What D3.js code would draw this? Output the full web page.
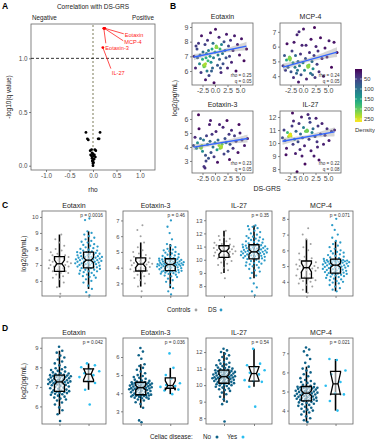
<!DOCTYPE html>
<html>
<head>
<meta charset="utf-8">
<script src="https://cdn.jsdelivr.net/npm/d3@7"></script>
<style>
body { margin: 0; background: #fff; }
svg { font-family: "Liberation Sans", Arial, Helvetica, sans-serif; }
</style>
</head>
<body>
<div id="chart"></div>
<script>
// ---- panel A : correlation with DS-GRS ----
var volcanoRho  = [-0.15, 0.15, -0.12, -0.10, 0.11, 0.13, -0.06, -0.03, 0.04, 0.06, -0.05, -0.03, 0.00, 0.03, -0.02, 0.02, -0.01, 0.01, 0.00, 0.00, -0.02, 0.05, 0.01, -0.01];
var volcanoLogQ = [0.31, 0.31, 0.25, 0.24, 0.25, 0.25, 0.14, 0.15, 0.15, 0.14, 0.10, 0.09, 0.11, 0.10, 0.07, 0.06, 0.04, 0.03, 0.02, 0.00, 0.12, 0.08, 0.09, 0.05];
var hlNames = ["Eotaxin", "MCP-4", "Eotaxin-3", "IL-27"];
var hlRho   = [0.25, 0.24, 0.23, 0.21];
var hlLogQ  = [1.28, 1.28, 1.28, 1.10];

// ---- panel B : scatter vs DS-GRS ----
var bNames = ["Eotaxin", "MCP-4", "Eotaxin-3", "IL-27"];
var bRho = ["0.25", "0.24", "0.23", "0.22"];
var bQ   = ["0.05", "0.05", "0.05", "0.08"];
var bIntercept = [7.25, 4.99, 4.23, 10.42];
var bSlope     = [0.071, 0.094, 0.057, 0.07];
var bEotaxin = [[-4.2,7.0],[-3.9,6.2],[-3.6,7.5],[-3.5,6.9],[-3.3,7.9],[-3.1,6.5],[-3.0,7.1],[-2.8,5.9],[-2.7,8.4],[-2.5,6.8],[-2.4,7.3],[-2.3,6.4],[-2.2,6.3],[-2.1,6.45],[-2.0,7.8],[-1.9,5.4],[-1.8,6.9],[-1.7,7.2],[-1.6,6.0],[-1.5,8.1],[-1.4,6.7],[-1.3,7.4],[-1.2,5.7],[-1.0,7.0],[-0.9,8.6],[-0.8,6.6],[-0.6,7.5],[-0.5,6.2],[-0.4,7.9],[-0.3,6.9],[-0.2,5.2],[0.0,7.3],[0.1,8.85],[0.2,7.6],[0.3,7.65],[0.4,7.6],[0.5,6.4],[0.6,7.1],[0.8,8.3],[0.9,6.8],[1.0,7.5],[1.2,5.9],[1.3,7.8],[1.5,7.2],[1.6,6.5],[1.8,8.0],[2.0,7.4],[2.2,6.9],[2.3,8.5],[2.5,6.2],[2.7,7.7],[2.9,7.0],[3.1,8.1],[3.3,6.6],[3.6,7.4],[3.9,8.4],[4.2,6.0],[4.5,7.8],[4.9,7.1],[5.3,8.2],[5.8,6.7],[6.3,7.5],[-3.8,7.7],[-0.7,6.0],[1.1,6.2],[-2.0,6.35],[-1.9,6.5],[0.25,7.7]];
var bMCP4 = [[-4.0,4.7],[-3.7,5.4],[-3.5,4.4],[-3.3,5.1],[-3.0,4.6],[-2.8,5.2],[-2.7,5.3],[-2.6,5.1],[-2.5,5.2],[-2.4,4.3],[-2.2,5.7],[-2.0,4.9],[-1.9,3.9],[-1.8,6.3],[-1.6,4.6],[-1.5,5.4],[-1.3,4.2],[-1.2,6.8],[-1.0,5.0],[-0.9,3.6],[-0.7,4.7],[-0.5,5.5],[-0.4,4.1],[-0.2,6.1],[0.0,4.9],[0.1,7.2],[0.3,4.4],[0.5,5.2],[0.7,3.8],[0.9,4.7],[1.0,4.6],[1.1,4.7],[1.2,4.75],[1.3,5.6],[1.5,4.2],[1.6,6.5],[1.8,5.0],[2.0,4.5],[2.2,5.4],[2.4,3.9],[2.6,6.0],[2.8,4.8],[3.0,5.7],[3.2,4.3],[3.5,6.6],[3.8,5.2],[4.1,4.0],[4.4,5.9],[4.8,5.3],[5.2,6.4],[5.7,4.6],[6.2,6.3],[6.8,5.6],[-3.2,6.2],[-0.8,7.0],[2.3,7.3],[0.6,6.1],[-1.1,4.4],[1.9,4.1],[-2.6,5.25],[1.15,4.65]];
var bEotaxin3 = [[-4.3,4.1],[-4.0,4.7],[-3.7,3.9],[-3.5,4.3],[-3.2,5.3],[-3.0,4.0],[-2.8,3.9],[-2.7,4.0],[-2.6,4.1],[-2.5,3.7],[-2.3,4.5],[-2.2,2.6],[-2.0,2.5],[-1.9,3.4],[-1.7,4.8],[-1.5,4.2],[-1.3,3.2],[-1.1,5.6],[-1.0,4.4],[-0.8,3.6],[-0.6,4.9],[-0.4,4.0],[-0.2,3.3],[0.0,4.3],[0.2,5.1],[0.4,3.8],[0.6,4.5],[0.8,4.1],[1.0,3.9],[1.2,4.0],[1.3,4.05],[1.4,4.2],[1.6,5.4],[1.8,3.5],[2.0,4.6],[2.2,4.3],[2.4,5.9],[2.6,3.7],[2.8,4.9],[3.0,4.2],[3.3,5.2],[3.6,3.9],[3.9,4.8],[4.2,4.4],[4.6,3.6],[5.0,5.0],[5.4,4.5],[5.9,4.1],[6.5,4.6],[-3.3,6.3],[-0.9,5.9],[0.9,5.6],[-1.8,3.0],[0.5,2.9],[2.9,3.1],[-2.9,4.6],[4.8,5.6],[-2.75,4.05],[1.25,3.95]];
var bIL27 = [[-4.1,10.4],[-3.8,11.0],[-3.6,10.2],[-3.3,9.6],[-3.1,10.8],[-2.9,10.5],[-2.7,10.6],[-2.6,10.6],[-2.5,10.7],[-2.4,10.55],[-2.2,11.3],[-2.0,9.9],[-1.9,11.7],[-1.7,10.3],[-1.5,9.2],[-1.4,10.9],[-1.2,7.8],[-1.0,10.1],[-0.8,11.5],[-0.6,9.5],[-0.5,10.7],[-0.3,12.0],[-0.1,10.4],[0.1,11.2],[0.3,9.8],[0.5,10.9],[0.7,10.9],[0.8,11.0],[0.9,10.95],[1.0,12.2],[1.2,10.3],[1.4,11.6],[1.6,9.4],[1.8,10.8],[2.0,11.1],[2.2,9.0],[2.4,10.5],[2.6,11.9],[2.8,10.1],[3.0,11.3],[3.2,8.7],[3.5,10.7],[3.8,11.5],[4.1,9.9],[4.4,10.6],[4.8,11.1],[5.2,10.2],[5.7,10.9],[6.3,11.0],[-2.1,12.3],[0.4,8.4],[-3.4,9.1],[2.9,9.7],[-0.2,9.0],[1.3,11.9],[-2.55,10.65],[0.85,10.9]];
var densityTicks = [50, 100, 150, 200, 250];

// ---- panel C : Controls vs DS ----
var cNames = ["Eotaxin", "Eotaxin-3", "IL-27", "MCP-4"];
var cPvals = ["0.0016", "0.46", "0.35", "0.071"];
var cEotaxinCtrl = [5.2,5.6,5.9,6.1,6.2,6.3,6.4,6.5,6.5,6.6,6.6,6.7,6.8,6.8,6.9,6.9,7.0,7.0,7.0,7.05,7.1,7.1,7.2,7.2,7.3,7.3,7.4,7.4,7.5,7.5,7.6,7.6,7.7,7.8,7.9,8.0,8.2,8.4,8.6,8.9];
var cEotaxinDS = [5.1,5.3,5.5,5.7,5.9,6.0,6.1,6.2,6.25,6.3,6.35,6.4,6.45,6.5,6.55,6.6,6.6,6.65,6.7,6.7,6.75,6.8,6.8,6.85,6.85,6.9,6.9,6.95,6.95,7.0,7.0,7.05,7.05,7.1,7.1,7.1,7.15,7.15,7.2,7.2,7.2,7.25,7.25,7.3,7.3,7.3,7.35,7.35,7.4,7.4,7.4,7.45,7.45,7.5,7.5,7.5,7.55,7.55,7.6,7.6,7.65,7.65,7.7,7.7,7.75,7.75,7.8,7.8,7.85,7.9,7.9,7.95,8.0,8.05,8.1,8.15,8.2,8.25,8.3,8.4,8.45,8.5,8.6,8.7,8.8,8.9,9.0,9.1,9.8,9.9];
var cEotaxin3Ctrl = [2.5,2.8,3.0,3.2,3.35,3.45,3.55,3.6,3.7,3.75,3.8,3.85,3.9,3.95,4.0,4.05,4.1,4.15,4.2,4.2,4.25,4.3,4.3,4.35,4.4,4.45,4.5,4.55,4.6,4.6,4.7,4.8,4.9,5.0,5.1,5.3,5.6,6.0,6.4,6.7];
var cEotaxin3DS = [2.3,2.5,2.7,2.9,3.1,3.2,3.3,3.4,3.45,3.5,3.55,3.6,3.62,3.65,3.68,3.7,3.72,3.74,3.76,3.78,3.8,3.8,3.8,3.85,3.87,3.9,3.92,3.95,3.97,4.0,4.0,4.02,4.05,4.07,4.1,4.1,4.12,4.14,4.15,4.16,4.17,4.18,4.19,4.2,4.2,4.2,4.22,4.24,4.25,4.27,4.29,4.3,4.32,4.34,4.35,4.37,4.39,4.4,4.42,4.44,4.45,4.47,4.49,4.5,4.52,4.54,4.55,4.57,4.6,4.63,4.66,4.7,4.74,4.78,4.82,4.86,4.9,4.95,5.0,5.05,5.1,5.15,5.2,5.3,5.4,5.5,5.8,6.2,6.6,7.0];
var cIL27Ctrl = [8.6,9.0,9.2,9.4,9.6,9.7,9.8,9.9,10.0,10.1,10.2,10.25,10.3,10.35,10.4,10.45,10.5,10.55,10.6,10.65,10.65,10.7,10.75,10.8,10.85,10.9,10.95,11.0,11.0,11.05,11.1,11.15,11.2,11.3,11.4,11.5,11.6,11.7,11.8,12.2];
var cIL27DS = [7.3,7.6,7.9,8.2,8.6,8.8,9.0,9.1,9.2,9.3,9.4,9.5,9.55,9.6,9.65,9.7,9.75,9.8,9.85,9.9,9.95,10.0,10.05,10.1,10.12,10.15,10.18,10.2,10.22,10.25,10.28,10.3,10.33,10.35,10.38,10.4,10.43,10.45,10.48,10.5,10.52,10.55,10.57,10.6,10.6,10.6,10.62,10.65,10.67,10.7,10.72,10.75,10.78,10.8,10.83,10.85,10.88,10.9,10.93,10.95,10.98,11.0,11.02,11.05,11.07,11.1,11.1,11.15,11.2,11.25,11.3,11.35,11.4,11.45,11.5,11.55,11.6,11.65,11.7,11.75,11.8,11.9,12.0,12.1,12.2,12.3,12.4,12.5,12.55,12.6];
var cMCP4Ctrl = [3.3,3.5,3.7,3.8,3.9,4.0,4.05,4.1,4.15,4.2,4.25,4.3,4.4,4.5,4.6,4.7,4.75,4.8,4.85,4.9,4.9,4.95,5.0,5.0,5.05,5.1,5.15,5.2,5.25,5.3,5.4,5.5,5.6,5.8,6.0,6.2,6.4,6.7,7.0,7.4];
var cMCP4DS = [3.4,3.5,3.6,3.7,3.8,3.9,3.95,4.0,4.05,4.1,4.15,4.2,4.25,4.3,4.33,4.36,4.4,4.42,4.45,4.48,4.5,4.52,4.55,4.58,4.6,4.62,4.65,4.67,4.7,4.72,4.75,4.77,4.8,4.82,4.85,4.87,4.9,4.92,4.95,4.97,5.0,5.0,5.02,5.04,5.05,5.07,5.1,5.12,5.14,5.16,5.18,5.2,5.22,5.24,5.25,5.27,5.28,5.3,5.31,5.32,5.33,5.34,5.35,5.36,5.37,5.38,5.4,5.45,5.5,5.55,5.6,5.65,5.7,5.75,5.8,5.85,5.9,5.95,6.0,6.1,6.2,6.3,6.4,6.5,6.6,6.8,7.0,7.3,7.6,8.0];

// ---- panel D : celiac disease No vs Yes ----
var dNames = ["Eotaxin", "Eotaxin-3", "IL-27", "MCP-4"];
var dPvals = ["0.042", "0.036", "0.54", "0.021"];
var dEotaxinNo = [5.25,5.6,5.8,5.95,6.1,6.2,6.3,6.35,6.4,6.45,6.5,6.55,6.6,6.62,6.65,6.68,6.7,6.72,6.74,6.75,6.78,6.8,6.83,6.86,6.9,6.93,6.96,7.0,7.02,7.05,7.08,7.1,7.12,7.15,7.17,7.19,7.21,7.22,7.24,7.25,7.26,7.28,7.3,7.32,7.34,7.36,7.38,7.4,7.42,7.44,7.46,7.48,7.5,7.52,7.54,7.55,7.56,7.58,7.59,7.6,7.62,7.65,7.68,7.7,7.74,7.78,7.82,7.86,7.9,7.95,8.0,8.1,8.2,8.3,8.4,8.5,8.6,8.75,8.85,9.05];
var dEotaxinYes = [6.1,6.85,7.2,7.3,7.5,7.6,7.7,7.8,7.9,8.0,8.1,8.2];
var dEotaxin3No = [2.4,2.5,3.2,3.4,3.5,3.6,3.65,3.7,3.72,3.75,3.77,3.8,3.82,3.84,3.86,3.87,3.88,3.89,3.9,3.9,3.92,3.95,3.98,4.0,4.02,4.05,4.08,4.1,4.12,4.14,4.16,4.18,4.2,4.22,4.24,4.25,4.26,4.27,4.28,4.3,4.31,4.33,4.35,4.37,4.38,4.4,4.42,4.43,4.45,4.46,4.48,4.5,4.51,4.53,4.54,4.55,4.56,4.57,4.58,4.6,4.62,4.65,4.68,4.7,4.75,4.8,4.85,4.9,4.95,5.0,5.1,5.2,5.3,5.4,5.5,5.6,5.9,6.1,6.3,6.5];
var dEotaxin3Yes = [3.95,4.15,4.2,4.3,4.35,4.4,4.45,4.55,4.8,5.0,5.4,6.2];
var dIL27No = [7.8,8.85,9.0,9.15,9.3,9.45,9.55,9.65,9.7,9.75,9.8,9.85,9.9,9.95,9.98,10.0,10.03,10.05,10.08,10.1,10.12,10.15,10.18,10.2,10.22,10.25,10.27,10.3,10.32,10.34,10.36,10.38,10.4,10.42,10.44,10.45,10.46,10.47,10.48,10.5,10.52,10.54,10.56,10.58,10.6,10.62,10.64,10.66,10.68,10.7,10.72,10.74,10.76,10.78,10.8,10.82,10.84,10.86,10.88,10.9,10.93,10.96,11.0,11.03,11.06,11.1,11.15,11.2,11.25,11.3,11.35,11.4,11.5,11.6,11.7,11.8,11.9,12.0,12.1,12.2];
var dIL27Yes = [8.7,9.9,10.2,10.25,10.3,10.65,10.75,10.9,11.1,11.2,11.3,12.2];
var dMCP4No = [3.4,3.5,3.6,3.7,3.8,3.9,3.95,4.0,4.05,4.1,4.15,4.2,4.25,4.3,4.33,4.36,4.4,4.43,4.46,4.5,4.52,4.54,4.56,4.58,4.6,4.62,4.64,4.66,4.68,4.7,4.72,4.74,4.76,4.78,4.8,4.82,4.84,4.86,4.88,4.9,4.92,4.94,4.96,4.98,5.0,5.02,5.04,5.06,5.08,5.1,5.12,5.14,5.16,5.18,5.2,5.21,5.22,5.23,5.24,5.25,5.3,5.35,5.4,5.45,5.5,5.55,5.6,5.7,5.8,5.9,6.0,6.1,6.2,6.3,6.5,6.7,6.9,7.1,7.2,7.3];
var dMCP4Yes = [4.0,4.5,4.85,4.9,5.3,5.5,5.9,6.1,6.65,6.7];

// ------------------------------------------------------------
var width = 375, height = 440;
var txtCol = "#4d4d4d";
var intFmt = d3.format("d");

var svg = d3.select("#chart").append("svg")
    .attr("width", width)
    .attr("height", height);

function label(g, x, y, s, size, anchor, color, weight) {
    return g.append("text")
        .attr("x", x).attr("y", y)
        .attr("text-anchor", anchor || "start")
        .attr("font-size", size)
        .attr("font-weight", weight || "normal")
        .attr("fill", color || "#000")
        .text(s);
}

function styleAxis(sel, size) {
    sel.attr("font-size", size).attr("font-family", null);
    sel.select(".domain").remove();
    sel.selectAll(".tick line").attr("stroke", "#333").attr("stroke-width", 0.6);
    sel.selectAll(".tick text").attr("fill", txtCol);
}

function frame(g, x0, y0, x1, y1) {
    g.append("rect")
        .attr("x", x0).attr("y", y0)
        .attr("width", x1 - x0).attr("height", y1 - y0)
        .attr("fill", "none").attr("stroke", "#666").attr("stroke-width", 0.8);
}

// panel letters
label(svg, 2, 9, "A", 8.5, "start", "#000", "bold");
label(svg, 170, 9, "B", 8.5, "start", "#000", "bold");
label(svg, 2, 208, "C", 8.5, "start", "#000", "bold");
label(svg, 2, 331, "D", 8.5, "start", "#000", "bold");

// ================= A =================
(function () {
    var g = svg.append("g");
    var x = d3.scaleLinear().domain([-1.32, 1.32]).range([31, 155]);
    var y = d3.scaleLinear().domain([-0.04, 1.32]).range([170, 24]);

    label(g, 93, 9, "Correlation with DS-GRS", 6.5, "middle", "#222");
    label(g, 32, 20, "Negative", 6.3, "start", "#222");
    label(g, 154, 20, "Positive", 6.3, "end", "#222");

    frame(g, 31, 24, 155, 170);

    g.append("g").attr("transform", "translate(31,0)")
        .call(d3.axisLeft(y).tickValues([0, 0.5, 1]).tickSize(2).tickPadding(1.5)
            .tickFormat(function (d) { return d.toFixed(1); }))
        .call(styleAxis, 6.3);
    g.append("g").attr("transform", "translate(0,170)")
        .call(d3.axisBottom(x).tickValues([-1, -0.5, 0, 0.5, 1]).tickSize(2).tickPadding(2)
            .tickFormat(function (d) { return d.toFixed(1); }))
        .call(styleAxis, 6.3);

    label(g, 93, 192, "rho", 6.5, "middle", "#222");
    label(g, 0, 0, "-log10(q value)", 6.5, "middle", "#222")
        .attr("transform", "translate(11,97) rotate(-90)");

    g.append("line")
        .attr("x1", x(0)).attr("x2", x(0))
        .attr("y1", 25).attr("y2", 169)
        .attr("stroke", "#9a9a80").attr("stroke-width", 1.3)
        .attr("stroke-dasharray", "2,2");
    g.append("line")
        .attr("x1", 31).attr("x2", 155)
        .attr("y1", y(1)).attr("y2", y(1))
        .attr("stroke", "#000").attr("stroke-width", 0.8)
        .attr("stroke-dasharray", "3,2");

    g.selectAll("circle.v").data(volcanoRho).enter().append("circle")
        .attr("cx", function (d) { return x(d); })
        .attr("cy", function (d, i) { return y(volcanoLogQ[i]); })
        .attr("r", 1.4).attr("fill", "#000");

    // label layout: text dx, dy, line end dx, dy (pixels from the point)
    var lab = [[20, 9, 19, 5.5], [20, 16, 19, 12.5], [1.5, 22, 2, 15], [9, 27.5, 8, 21]];
    hlNames.forEach(function (n, i) {
        var px = x(hlRho[i]), py = y(hlLogQ[i]);
        g.append("line")
            .attr("x1", px).attr("y1", py)
            .attr("x2", px + lab[i][2]).attr("y2", py + lab[i][3])
            .attr("stroke", "#ff2020").attr("stroke-width", 0.8);
        label(g, px + lab[i][0], py + lab[i][1], n, 5.6, "start", "#ff2020");
    });
    g.selectAll("circle.h").data(hlRho).enter().append("circle")
        .attr("cx", function (d) { return x(d); })
        .attr("cy", function (d, i) { return y(hlLogQ[i]); })
        .attr("r", 1.4).attr("fill", "#ff0000");
})();

// ================= B =================
(function () {
    var g = svg.append("g");
    var boxes = [[192, 23, 253, 85], [280, 23, 341, 85], [192, 111, 253, 173], [280, 111, 341, 173]];
    var yDomains = [[5.05, 9.27], [3.4, 7.6], [2.14, 6.57], [7.7, 12.46]];
    var yTicks = [[6, 7, 8, 9], [4, 5, 6, 7], [3, 4, 5, 6], [8, 9, 10, 11, 12]];
    var sets = [bEotaxin, bMCP4, bEotaxin3, bIL27];

    // point density (neighbour kernel in pixel space)
    var all = [];
    sets.forEach(function (pts, k) {
        var b = boxes[k];
        var x = d3.scaleLinear().domain([-4.6, 7.6]).range([b[0], b[2]]);
        var y = d3.scaleLinear().domain(yDomains[k]).range([b[3], b[1]]);
        pts.forEach(function (p) { all.push({ k: k, px: x(p[0]), py: y(p[1]) }); });
    });
    all.forEach(function (a) {
        a.d = d3.sum(all, function (o) {
            if (o.k !== a.k) return 0;
            var dd = (o.px - a.px) * (o.px - a.px) + (o.py - a.py) * (o.py - a.py);
            return Math.exp(-dd / (2 * 4 * 4));
        }) - 1;
    });
    var dmax = d3.max(all, function (a) { return a.d; });
    var dens = d3.scalePow().exponent(1.25).domain([0, dmax]).range([5, 255]);
    var col = d3.scaleSequential(d3.interpolateViridis).domain([0, 265]);

    sets.forEach(function (pts, k) {
        var b = boxes[k];
        var x = d3.scaleLinear().domain([-4.6, 7.6]).range([b[0], b[2]]);
        var y = d3.scaleLinear().domain(yDomains[k]).range([b[3], b[1]]);
        var gg = g.append("g");

        label(gg, (b[0] + b[2]) / 2, b[1] - 4, bNames[k], 7, "middle", "#222");

        gg.append("g").attr("transform", "translate(" + b[0] + ",0)")
            .call(d3.axisLeft(y).tickValues(yTicks[k]).tickSize(2).tickPadding(1.5).tickFormat(intFmt))
            .call(styleAxis, 7);
        gg.append("g").attr("transform", "translate(0," + b[3] + ")")
            .call(d3.axisBottom(x).tickValues([-2.5, 0, 2.5, 5]).tickSize(2).tickPadding(1.5)
                .tickFormat(function (d) { return d.toFixed(1); }))
            .call(styleAxis, 7);

        var mine = all.filter(function (a) { return a.k === k; });
        gg.append("g").selectAll("circle").data(mine)
            .enter().append("circle")
            .sort(function (a, c) { return a.d - c.d; })
            .attr("cx", function (a) { return a.px; })
            .attr("cy", function (a) { return a.py; })
            .attr("r", 1.5)
            .attr("fill", function (a) { return col(dens(a.d)); });

        // fitted line with confidence band
        var a0 = bIntercept[k], a1 = bSlope[k], n = pts.length;
        var xm = d3.mean(pts, function (p) { return p[0]; });
        var sxx = d3.sum(pts, function (p) { return (p[0] - xm) * (p[0] - xm); });
        var s = Math.sqrt(d3.sum(pts, function (p) { var r = p[1] - a0 - a1 * p[0]; return r * r; }) / (n - 2));
        var xr = d3.extent(pts, function (p) { return p[0]; });
        var xs = d3.range(41).map(function (i) { return xr[0] + (xr[1] - xr[0]) * i / 40; });
        var se = function (v) { return 1.98 * s * Math.sqrt(1 / n + (v - xm) * (v - xm) / sxx) * 0.55; };
        gg.append("path").datum(xs)
            .attr("d", d3.area()
                .x(function (v) { return x(v); })
                .y0(function (v) { return y(a0 + a1 * v - se(v)); })
                .y1(function (v) { return y(a0 + a1 * v + se(v)); }))
            .attr("fill", "#999").attr("fill-opacity", 0.4);
        gg.append("path").datum(xr)
            .attr("d", d3.line()
                .x(function (v) { return x(v); })
                .y(function (v) { return y(a0 + a1 * v); }))
            .attr("stroke", "#3366ff").attr("stroke-width", 1.4).attr("fill", "none");

        frame(gg, b[0], b[1], b[2], b[3]);
        label(gg, b[2] - 1.5, b[3] - 8, "rho = " + bRho[k], 4.6, "end", "#333");
        label(gg, b[2] - 1.5, b[3] - 2.5, "q = " + bQ[k], 4.6, "end", "#333");
    });

    label(g, 267, 191, "DS-GRS", 7, "middle", "#222");
    label(g, 0, 0, "log2(pg/mL)", 6.8, "middle", "#222")
        .attr("transform", "translate(177,98) rotate(-90)");

    // colour bar
    var cb = d3.scaleLinear().domain([0, 265]).range([69, 122]);
    var grad = svg.append("defs").append("linearGradient")
        .attr("id", "vir").attr("x1", 0).attr("x2", 0).attr("y1", 0).attr("y2", 1);
    d3.range(11).forEach(function (i) {
        grad.append("stop").attr("offset", i / 10).attr("stop-color", d3.interpolateViridis(i / 10));
    });
    g.append("rect").attr("x", 355).attr("y", cb(0)).attr("width", 7)
        .attr("height", cb(265) - cb(0)).attr("fill", "url(#vir)");
    densityTicks.forEach(function (t) {
        g.append("line").attr("x1", 355).attr("x2", 357).attr("y1", cb(t)).attr("y2", cb(t)).attr("stroke", "#fff").attr("stroke-width", 0.5);
        g.append("line").attr("x1", 360).attr("x2", 362).attr("y1", cb(t)).attr("y2", cb(t)).attr("stroke", "#fff").attr("stroke-width", 0.5);
        label(g, 364, cb(t) + 2, String(t), 5.8, "start", "#333");
    });
    label(g, 365, 132, "Density", 6, "middle", "#333");
})();

// ================= C & D : notched box + sina =================
function sina(vals, half) {
    var s = vals.slice().sort(d3.ascending);
    var sd = d3.deviation(vals);
    var iqr = d3.quantile(s, 0.75) - d3.quantile(s, 0.25);
    var bw = 0.9 * Math.min(sd, iqr / 1.34 || sd) * Math.pow(vals.length, -0.2);
    var dd = vals.map(function (v) {
        return d3.sum(vals, function (w) { return Math.exp(-0.5 * Math.pow((v - w) / bw, 2)); });
    });
    var mx = d3.max(dd);
    return vals.map(function (v, i) {
        var u = ((i + 1) * 0.6180339887) % 1 * 2 - 1;
        return u * half * Math.sqrt(dd[i] / mx);
    });
}

function boxStats(vals) {
    var s = vals.slice().sort(d3.ascending);
    var q1 = d3.quantile(s, 0.25), md = d3.quantile(s, 0.5), q3 = d3.quantile(s, 0.75);
    var iqr = q3 - q1;
    var lo = d3.min(s.filter(function (v) { return v >= q1 - 1.5 * iqr; }));
    var hi = d3.max(s.filter(function (v) { return v <= q3 + 1.5 * iqr; }));
    var nw = 1.58 * iqr / Math.sqrt(s.length);
    return { q1: q1, md: md, q3: q3, lo: lo, hi: hi, nl: md - nw, nu: md + nw };
}

function facetRow(opts) {
    var g = svg.append("g");
    opts.names.forEach(function (name, k) {
        var bx = opts.xs[k];
        var x = d3.scalePoint().domain([0, 1]).range(bx).padding(0.6);
        var y = d3.scaleLinear().domain(opts.yDomains[k]).range([opts.bottom, opts.top]);
        var gg = g.append("g");

        label(gg, (bx[0] + bx[1]) / 2, opts.top - 3.5, name, 7, "middle", "#222");
        gg.append("g").attr("transform", "translate(" + bx[0] + ",0)")
            .call(d3.axisLeft(y).tickValues(opts.yTicks[k]).tickSize(2).tickPadding(1.5).tickFormat(intFmt))
            .call(styleAxis, 5.8);
        gg.append("g").attr("transform", "translate(0," + opts.bottom + ")")
            .call(d3.axisBottom(x).tickSize(2).tickFormat(""))
            .call(styleAxis, 5.8);

        opts.groups[k].forEach(function (vals, j) {
            var cx = x(j);
            var st = boxStats(vals);
            var off = sina(vals, opts.half[j]);

            gg.append("line")
                .attr("x1", cx).attr("x2", cx)
                .attr("y1", y(st.lo)).attr("y2", y(st.hi))
                .attr("stroke", "#000").attr("stroke-width", 1.6);

            gg.append("g").selectAll("circle").data(vals).enter().append("circle")
                .attr("cx", function (d, i) { return cx + off[i]; })
                .attr("cy", function (d) { return y(d); })
                .attr("r", opts.r[j])
                .attr("fill", opts.colors[j]);

            var hw = 5, inset = 2.5;
            var pts = [
                [cx - hw, y(st.q3)], [cx - hw, y(st.nu)], [cx - hw + inset, y(st.md)],
                [cx - hw, y(st.nl)], [cx - hw, y(st.q1)], [cx + hw, y(st.q1)],
                [cx + hw, y(st.nl)], [cx + hw - inset, y(st.md)], [cx + hw, y(st.nu)],
                [cx + hw, y(st.q3)]
            ];
            gg.append("path")
                .attr("d", d3.line()(pts) + "Z")
                .attr("fill", "#fff").attr("fill-opacity", 0.55)
                .attr("stroke", "#000").attr("stroke-width", 1.3)
                .attr("stroke-linejoin", "miter");
            gg.append("line")
                .attr("x1", cx - hw + inset).attr("x2", cx + hw - inset)
                .attr("y1", y(st.md)).attr("y2", y(st.md))
                .attr("stroke", "#000").attr("stroke-width", 1.3);
        });

        frame(gg, bx[0], opts.top, bx[1], opts.bottom);
        label(gg, bx[1] - 3, opts.top + 6, "p = " + opts.pvals[k], 4.8, "end", "#333");
    });

    label(g, 0, 0, "log2(pg/mL)", 6.8, "middle", "#222")
        .attr("transform", "translate(26," + ((opts.top + opts.bottom) / 2) + ") rotate(-90)");
    return g;
}

var facetX = [[42, 106], [123, 188], [206, 272], [289, 353]];

var gC = facetRow({
    names: cNames, pvals: cPvals, xs: facetX, top: 211, bottom: 296,
    yDomains: [[5.06, 10.37], [2.2, 7.6], [7.25, 13.7], [3.1, 8.5]],
    yTicks: [[6, 7, 8, 9, 10], [3, 4, 5, 6, 7], [8, 9, 10, 11, 12, 13], [4, 5, 6, 7, 8]],
    groups: [[cEotaxinCtrl, cEotaxinDS], [cEotaxin3Ctrl, cEotaxin3DS], [cIL27Ctrl, cIL27DS], [cMCP4Ctrl, cMCP4DS]],
    colors: ["#a0a0a0", "#2b9bc8"], r: [1.0, 1.15], half: [12, 14]
});
label(gC, 167, 312, "Controls", 6.3, "start", "#222");
gC.append("circle").attr("cx", 196).attr("cy", 310).attr("r", 1.4).attr("fill", "#a0a0a0");
label(gC, 208, 312, "DS", 6.3, "start", "#222");
gC.append("circle").attr("cx", 221).attr("cy", 310).attr("r", 1.4).attr("fill", "#2b9bc8");

var gD = facetRow({
    names: dNames, pvals: dPvals, xs: facetX, top: 338, bottom: 424,
    yDomains: [[5.1, 9.5], [2.3, 7.05], [7.65, 12.85], [3.3, 7.8]],
    yTicks: [[6, 7, 8, 9], [3, 4, 5, 6], [8, 9, 10, 11, 12], [4, 5, 6, 7]],
    groups: [[dEotaxinNo, dEotaxinYes], [dEotaxin3No, dEotaxin3Yes], [dIL27No, dIL27Yes], [dMCP4No, dMCP4Yes]],
    colors: ["#0f6288", "#2bbef0"], r: [1.3, 1.3], half: [12, 12]
});
label(gD, 150, 439, "Celiac disease:", 6.3, "start", "#222");
label(gD, 203, 439, "No", 6.3, "start", "#222");
gD.append("circle").attr("cx", 217).attr("cy", 437).attr("r", 1.5).attr("fill", "#0f6288");
label(gD, 227, 439, "Yes", 6.3, "start", "#222");
gD.append("circle").attr("cx", 243).attr("cy", 437).attr("r", 1.5).attr("fill", "#2bbef0");
</script>
</body>
</html>
